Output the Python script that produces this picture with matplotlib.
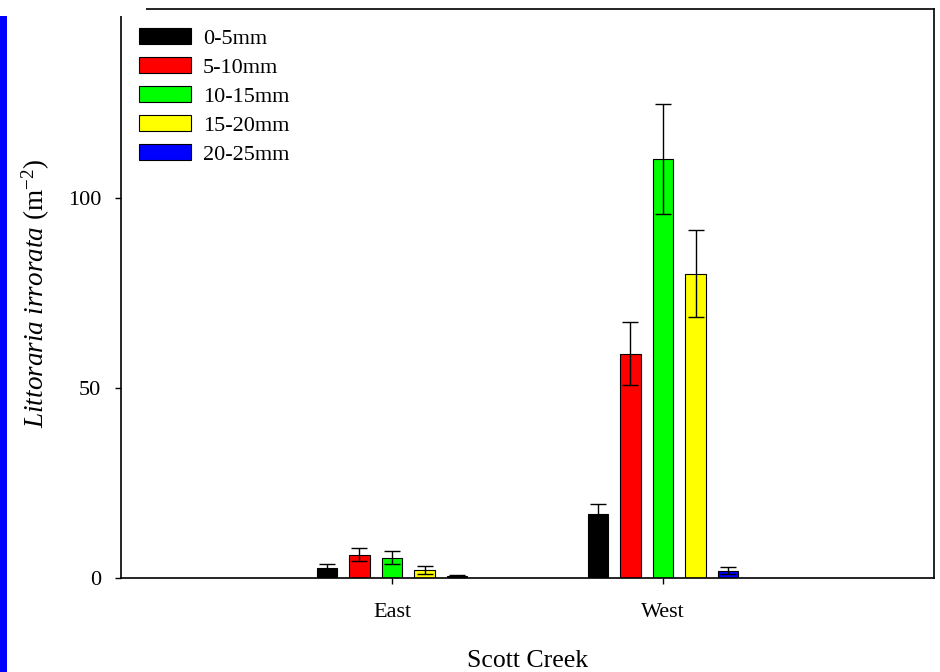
import numpy as np
import matplotlib
matplotlib.use('Agg')
import matplotlib.pyplot as plt
from matplotlib.patches import Rectangle

plt.rcParams['font.family'] = 'Liberation Serif'
plt.rcParams['mathtext.fontset'] = 'custom'
plt.rcParams['mathtext.rm'] = 'Liberation Serif'
plt.rcParams['mathtext.it'] = 'Liberation Serif:italic'

sites = ['East', 'West']
sizes = ['0-5mm', '5-10mm', '10-15mm', '15-20mm', '20-25mm']
colors = ['#000000', '#ff0000', '#00ff00', '#ffff00', '#0000ff']

# density per size class (mean and error)
east_mean = [2.6, 6.0, 5.3, 2.0, 0.5]
east_err = [1.0, 1.7, 1.7, 1.1, 0.2]
west_mean = [16.7, 59.0, 110.4, 80.1, 1.8]
west_err = [2.7, 8.3, 14.5, 11.4, 0.9]

fig = plt.figure(figsize=(9.4, 6.72), dpi=100)
ax = fig.add_axes([121/940, 1-577.7/672, 813/940, 569.2/672])

x = np.arange(len(sites))
step = 0.12
width = 0.074
for i, s in enumerate(sizes):
    ax.bar(x + (i-2)*step, [east_mean[i], west_mean[i]], width,
           color=colors[i], edgecolor='black', linewidth=0.8, label=s,
           yerr=[east_err[i], west_err[i]], capsize=5.8,
           error_kw=dict(elinewidth=1, capthick=1, ecolor='black'))

ax.set_xlim(-1, 2)
ax.set_ylim(0, 150)
ax.set_xticks(x)
ax.set_xticklabels(sites)
ax.set_yticks([0, 50, 100, 150])
ax.tick_params(axis='both', direction='out', length=4.3, width=1, labelsize=16)
ax.tick_params(axis='x', pad=14)
ax.tick_params(axis='y', pad=10)
for sp in ax.spines.values():
    sp.set_linewidth(1.2)

ax.set_xlabel('Scott Creek', fontsize=18.5, labelpad=20)
ax.set_ylabel(r'$\it{Littoraria\ irrorata}$ (m$^{-2}$)', fontsize=19.5, labelpad=11)

ax.legend(loc='upper left', bbox_to_anchor=(0.022, 0.965), frameon=False,
          fontsize=16, handlelength=2.34, handleheight=0.72, handletextpad=0.54,
          labelspacing=0.37, borderpad=0, borderaxespad=0)

# cropped corner and blue strip along the left edge
fig.add_artist(Rectangle((0, 1-16/672), 146/940, 16/672, transform=fig.transFigure,
                         facecolor='white', edgecolor='none', zorder=10))
fig.add_artist(Rectangle((0, 0), 7/940, 1-16/672, transform=fig.transFigure,
                         facecolor='#0000ff', edgecolor='none', zorder=10))

fig.savefig('out.png', dpi=100)
